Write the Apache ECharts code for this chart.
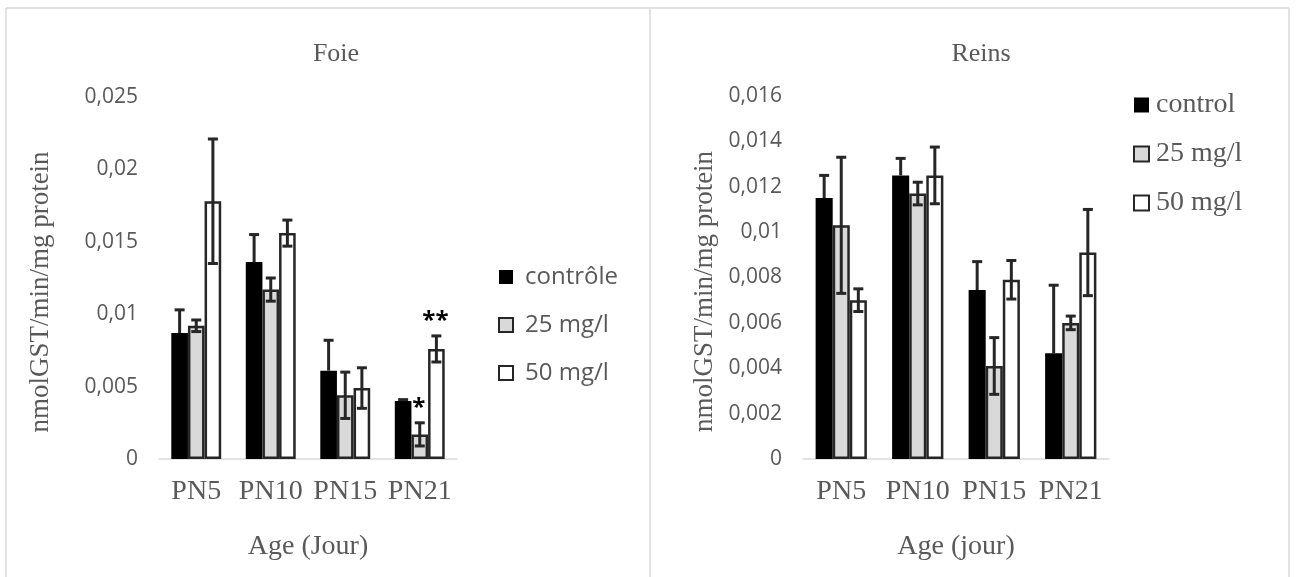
<!DOCTYPE html>
<html>
<head>
<meta charset="utf-8">
<script src="https://cdn.jsdelivr.net/npm/echarts@6/dist/echarts.min.js"></script>
<style>
  html, body { margin: 0; padding: 0; background: #ffffff; }
  #chart { width: 1296px; height: 577px; }
</style>
</head>
<body>
<div id="chart"></div>
<script>
// Age groups (days after birth)
const categories = ['PN5', 'PN10', 'PN15', 'PN21'];

// Liver (Foie) — GST activity, nmol/min/mg protein
const foieControle = [0.0087, 0.0136, 0.0061, 0.0040];
const foie25 = [0.0092, 0.0117, 0.0044, 0.0017];
const foie50 = [0.0178, 0.0156, 0.0049, 0.0076];
const foieErrControle = [0.0016, 0.0019, 0.0021, 0.0001];
const foieErr25 = [0.0004, 0.0008, 0.0016, 0.0008];
const foieErr50 = [0.0043, 0.0009, 0.0014, 0.0009];
const foieSignif25 = ['', '', '', '*'];
const foieSignif50 = ['', '', '', '**'];

// Kidneys (Reins)
const reinsControl = [0.0115, 0.0125, 0.00745, 0.00466];
const reins25 = [0.0103, 0.0117, 0.0041, 0.0060];
const reins50 = [0.0070, 0.0125, 0.0079, 0.0091];
const reinsErrControl = [0.0010, 0.00075, 0.00125, 0.0030];
const reinsErr25 = [0.0030, 0.0005, 0.00125, 0.0003];
const reinsErr50 = [0.0005, 0.00125, 0.00085, 0.0019];
const noSignif = ['', '', '', ''];

const CAT_GAP = 0.33;
const GREY = '#595959';
const INK = '#262626';
const SERIF = '"Liberation Serif", "Times New Roman", serif';
const SANS = '"Open Sans", "Liberation Sans", sans-serif';

const styleControl = { color: '#000000' };
const style25 = { color: '#d9d9d9', borderColor: INK, borderWidth: 2.5 };
const style50 = { color: '#ffffff', borderColor: INK, borderWidth: 2.5 };

function tickFmt(v) {
  if (v === 0) return '0';
  return String(Number(v.toFixed(4))).replace('.', ',');
}

function barSeries(name, data, style, idx) {
  return {
    name: name, type: 'bar', xAxisIndex: idx, yAxisIndex: idx,
    data: data, barGap: '0%', barCategoryGap: (CAT_GAP * 100) + '%',
    itemStyle: style, z: 2
  };
}

// Error bars (and significance marks) over the bar in slot 0,1,2 of each group.
// On the solid black bars only the upper arm shows.
function errorSeries(values, errs, slot, marks, idx, upperOnly) {
  return {
    type: 'custom', xAxisIndex: idx, yAxisIndex: idx, z: 5, silent: true,
    data: values.map((v, i) => [i, v + errs[i]]),
    encode: { x: 0, y: 1 },
    renderItem: function (params, api) {
      const i = params.dataIndex;
      const band = api.size([1, 0])[0];
      const barW = band * (1 - CAT_GAP) / 3;
      const x = api.coord([i, 0])[0] + (slot - 1) * barW;
      const yHi = api.coord([i, values[i] + errs[i]])[1];
      const yMid = api.coord([i, values[i]])[1];
      const yLo = api.coord([i, values[i] - errs[i]])[1];
      const cap = 5;
      const ls = { stroke: INK, lineWidth: 3 };
      const children = [
        { type: 'line', shape: { x1: x, y1: yHi, x2: x, y2: upperOnly ? yMid : yLo }, style: ls },
        { type: 'line', shape: { x1: x - cap, y1: yHi, x2: x + cap, y2: yHi }, style: ls }
      ];
      if (!upperOnly) {
        children.push({ type: 'line', shape: { x1: x - cap, y1: yLo, x2: x + cap, y2: yLo }, style: ls });
      }
      if (marks[i]) {
        children.push({
          type: 'text', x: x - 1, y: yHi - 3,
          style: { text: marks[i], fill: '#000000', font: 'bold 24px ' + SANS,
                   align: 'center', verticalAlign: 'bottom' }
        });
      }
      return { type: 'group', children: children };
    }
  };
}

function xAxisDef(idx, name) {
  return {
    gridIndex: idx, type: 'category', data: categories,
    axisTick: { show: false },
    axisLine: { lineStyle: { color: '#d9d9d9', width: 1.5 } },
    axisLabel: { color: GREY, fontFamily: SERIF, fontSize: 28, margin: 19, interval: 0 },
    name: name, nameLocation: 'middle', nameGap: 74,
    nameTextStyle: { color: GREY, fontFamily: SERIF, fontSize: 28 }
  };
}

function yAxisDef(idx, max, interval, gap) {
  return {
    gridIndex: idx, type: 'value', min: 0, max: max, interval: interval,
    axisLine: { show: false }, axisTick: { show: false }, splitLine: { show: false },
    axisLabel: { color: GREY, fontFamily: SANS, fontSize: 21, margin: 21, formatter: tickFmt },
    name: 'nmolGST/min/mg protein', nameLocation: 'middle', nameRotate: 90, nameGap: gap,
    nameTextStyle: { color: GREY, fontFamily: SERIF, fontSize: 27, padding: [0, 28, 0, 0] }
  };
}

const frame = { stroke: '#d9d9d9', lineWidth: 1.5 };

const option = {
  animation: false,
  backgroundColor: '#ffffff',
  title: [
    { text: 'Foie', left: 331, top: 36, textAlign: 'center',
      textStyle: { color: GREY, fontFamily: SERIF, fontSize: 26, fontWeight: 'normal' } },
    { text: 'Reins', left: 976, top: 36, textAlign: 'center',
      textStyle: { color: GREY, fontFamily: SERIF, fontSize: 26, fontWeight: 'normal' } }
  ],
  legend: [
    { orient: 'vertical', left: 498, top: 265, padding: 0, itemWidth: 14, itemHeight: 14, itemGap: 24,
      icon: 'rect', selectedMode: false,
      textStyle: { color: GREY, fontFamily: SANS, fontSize: 24, padding: [0, 0, 0, 7] },
      data: ['contrôle', '25 mg/l', '50 mg/l'] },
    { orient: 'vertical', left: 1133, top: 91, padding: 0, itemWidth: 15, itemHeight: 15, itemGap: 21,
      icon: 'rect', selectedMode: false,
      textStyle: { color: GREY, fontFamily: SERIF, fontSize: 28, padding: [0, 0, 0, 2] },
      data: ['control', '25 mg/l', '50 mg/l'] }
  ],
  grid: [
    { left: 159, top: 97, width: 298, height: 362, containLabel: false },
    { left: 803, top: 96, width: 306, height: 363, containLabel: false }
  ],
  xAxis: [xAxisDef(0, 'Age (Jour)'), xAxisDef(1, 'Age (jour)')],
  yAxis: [yAxisDef(0, 0.025, 0.005, 105), yAxisDef(1, 0.016, 0.002, 85)],
  series: [
    barSeries('contrôle', foieControle, styleControl, 0),
    barSeries('25 mg/l', foie25, style25, 0),
    barSeries('50 mg/l', foie50, style50, 0),
    errorSeries(foieControle, foieErrControle, 0, noSignif, 0, true),
    errorSeries(foie25, foieErr25, 1, foieSignif25, 0, false),
    errorSeries(foie50, foieErr50, 2, foieSignif50, 0, false),
    barSeries('control', reinsControl, styleControl, 1),
    barSeries('25 mg/l', reins25, style25, 1),
    barSeries('50 mg/l', reins50, style50, 1),
    errorSeries(reinsControl, reinsErrControl, 0, noSignif, 1, true),
    errorSeries(reins25, reinsErr25, 1, noSignif, 1, false),
    errorSeries(reins50, reinsErr50, 2, noSignif, 1, false)
  ],
  graphic: [
    { type: 'line', shape: { x1: 6, y1: 8, x2: 1289, y2: 8 }, style: frame, silent: true },
    { type: 'line', shape: { x1: 6, y1: 8, x2: 6, y2: 577 }, style: frame, silent: true },
    { type: 'line', shape: { x1: 650, y1: 8, x2: 650, y2: 577 }, style: frame, silent: true },
    { type: 'line', shape: { x1: 1289, y1: 8, x2: 1289, y2: 577 }, style: frame, silent: true }
  ]
};

const chart = echarts.init(document.getElementById('chart'), null, { renderer: 'canvas' });
chart.setOption(option);
</script>
</body>
</html>
